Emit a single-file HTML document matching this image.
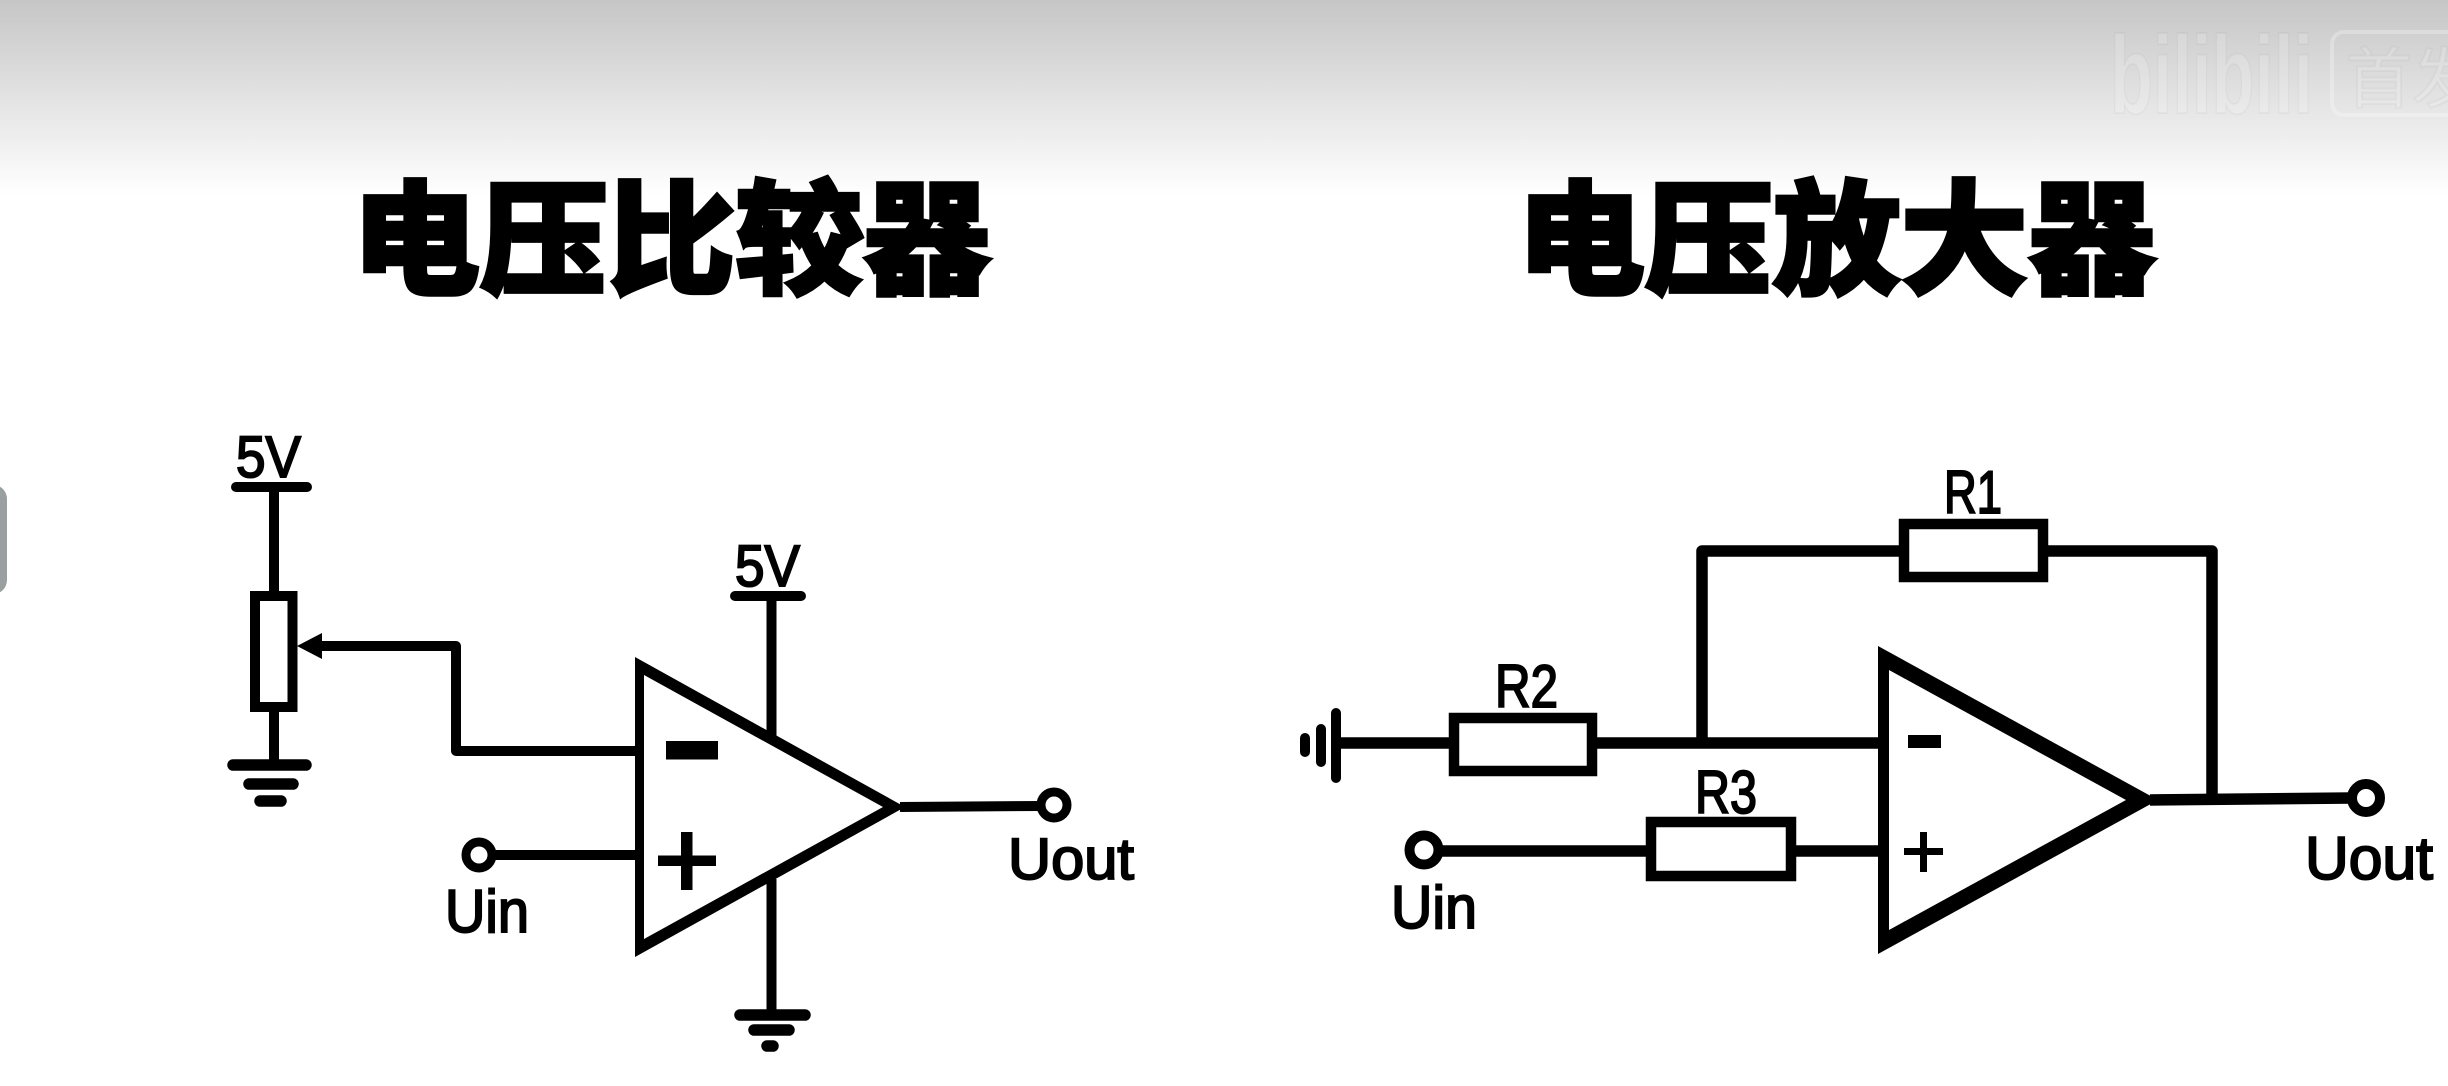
<!DOCTYPE html>
<html lang="zh">
<head>
<meta charset="utf-8">
<title>电压比较器 电压放大器</title>
<style>
html,body{margin:0;padding:0;background:#fff;width:2448px;height:1086px;overflow:hidden}
svg{display:block}
.t{font-family:"Liberation Sans","Noto Sans CJK SC",sans-serif;fill:#000;stroke:#000;stroke-width:2}
.h{font-family:"Noto Sans CJK SC","Noto Sans CJK JP",sans-serif;font-weight:900;fill:#000;stroke:#000;stroke-width:3.5;stroke-linejoin:miter;font-size:124px}
.w{fill:none;stroke:#000;stroke-width:10}
.b{fill:none;stroke:#000;stroke-width:11.5}
.r{fill:#fff;stroke:#000;stroke-width:10.5}
.c{stroke-linecap:round}
</style>
</head>
<body>
<svg width="2448" height="1086" viewBox="0 0 2448 1086" xmlns="http://www.w3.org/2000/svg">
<defs>
<linearGradient id="bg" x1="0" y1="0" x2="0" y2="1">
<stop offset="0" stop-color="#c6c6c6"/>
<stop offset="1" stop-color="#ffffff"/>
</linearGradient>
</defs>
<rect width="2448" height="1086" fill="#fff"/>
<rect width="2448" height="195" fill="url(#bg)"/>

<!-- watermark -->
<g fill="#ffffff" fill-opacity=".16" stroke="#000" stroke-opacity=".03" stroke-width="2">
<text x="2110" y="113" font-family="Liberation Sans, sans-serif" font-weight="700" font-size="110" textLength="203" lengthAdjust="spacingAndGlyphs">bilibili</text>
<rect x="2332" y="32" width="140" height="83" rx="12" fill="none" stroke="#fff" stroke-opacity=".28" stroke-width="4"/>
<text x="2346" y="102" font-family="Noto Sans CJK SC, sans-serif" font-size="66">首发</text>
</g>

<!-- side pill -->
<rect x="-20" y="485" width="27" height="109" rx="14" fill="#9aa0a0"/>

<!-- titles -->
<text class="h" x="352" y="284" textLength="639" lengthAdjust="spacingAndGlyphs">电压比较器</text>
<text class="h" x="1517" y="284" textLength="639" lengthAdjust="spacingAndGlyphs">电压放大器</text>

<!-- LEFT CIRCUIT -->
<text class="t" x="236" y="477" font-size="58" textLength="65" lengthAdjust="spacingAndGlyphs">5V</text>
<line class="w c" x1="236" y1="487" x2="307" y2="487"/>
<line class="w" x1="274" y1="487" x2="274" y2="592"/>
<rect class="w" x="255" y="596" width="37.5" height="111" fill="#fff"/>
<line class="w" x1="274" y1="711" x2="274" y2="765"/>
<line class="b c" x1="233" y1="765" x2="306" y2="765"/>
<line class="b c" x1="249" y1="784" x2="293" y2="784"/>
<line class="b c" x1="260" y1="801" x2="281" y2="801"/>

<polygon points="297,646 322,633 322,659" fill="#000"/>
<polyline class="w" points="318,646 456,646 456,751 638,751" stroke-linejoin="round"/>

<path fill-rule="evenodd" fill="#000" d="M635 657 L905 807 L635 957 Z M644 675 V939 L883 807 Z"/>
<rect x="666" y="741" width="52" height="18.5" fill="#000"/>
<rect x="658" y="855.5" width="58" height="10.5" fill="#000"/>
<rect x="681" y="832" width="11.5" height="58" fill="#000"/>

<circle cx="479" cy="855" r="13" fill="#fff" stroke="#000" stroke-width="9"/>
<line class="w" x1="492" y1="855" x2="638" y2="855"/>
<text class="t" x="445" y="932" font-size="60" textLength="84" lengthAdjust="spacingAndGlyphs">Uin</text>

<line class="w" x1="900" y1="807" x2="1042" y2="806"/>
<circle cx="1054" cy="805" r="13" fill="#fff" stroke="#000" stroke-width="9"/>
<text class="t" x="1008" y="879" font-size="58" textLength="126" lengthAdjust="spacingAndGlyphs">Uout</text>

<text class="t" x="735" y="586" font-size="58" textLength="65" lengthAdjust="spacingAndGlyphs">5V</text>
<line class="w c" x1="735" y1="596" x2="801" y2="596"/>
<line class="w" x1="771.5" y1="596" x2="771.5" y2="737"/>
<line class="w" x1="771.5" y1="879" x2="771.5" y2="1015"/>
<line class="b c" x1="740" y1="1015" x2="805" y2="1015"/>
<line class="b c" x1="754" y1="1030" x2="789" y2="1030"/>
<line class="b c" x1="767" y1="1046" x2="773" y2="1046"/>

<!-- RIGHT CIRCUIT -->
<text class="t" x="1944" y="513" font-size="60" textLength="58" lengthAdjust="spacingAndGlyphs">R1</text>
<rect class="r" x="1904" y="524" width="139" height="53"/>
<polyline class="b" points="1702,743 1702,551 1899,551" stroke-linejoin="round"/>
<polyline class="b" points="2048,551 2212,551 2212,798" stroke-linejoin="round"/>

<text class="t" x="1495" y="707" font-size="60" textLength="63" lengthAdjust="spacingAndGlyphs">R2</text>
<rect class="r" x="1454" y="718" width="138" height="53"/>
<line class="b" x1="1336" y1="743" x2="1449" y2="743"/>
<line class="b" x1="1597" y1="743" x2="1882" y2="743"/>
<line class="w c" x1="1336" y1="713" x2="1336" y2="778"/>
<line class="w c" x1="1321" y1="729" x2="1321" y2="762"/>
<line class="w c" x1="1305" y1="738" x2="1305" y2="752"/>

<text class="t" x="1695" y="813" font-size="60" textLength="62" lengthAdjust="spacingAndGlyphs">R3</text>
<rect class="r" x="1651" y="822" width="140" height="54"/>
<line class="b" x1="1440" y1="851" x2="1646" y2="851"/>
<line class="b" x1="1796" y1="851" x2="1882" y2="851"/>
<circle cx="1424" cy="850" r="14.5" fill="#fff" stroke="#000" stroke-width="10"/>
<text class="t" x="1391" y="928" font-size="60" textLength="86" lengthAdjust="spacingAndGlyphs">Uin</text>

<path fill-rule="evenodd" fill="#000" d="M1878 646 L2158 800 L1878 954 Z M1889 670 V930 L2126 800 Z"/>
<rect x="1908" y="735" width="33" height="13" fill="#000"/>
<rect x="1904" y="848" width="39" height="7" fill="#000"/>
<rect x="1920" y="832" width="7" height="40" fill="#000"/>

<line class="b" x1="2150" y1="800" x2="2352" y2="798"/>
<circle cx="2366" cy="798" r="14" fill="#fff" stroke="#000" stroke-width="10"/>
<text class="t" x="2305" y="879" font-size="60" textLength="128" lengthAdjust="spacingAndGlyphs">Uout</text>
</svg>
</body>
</html>
